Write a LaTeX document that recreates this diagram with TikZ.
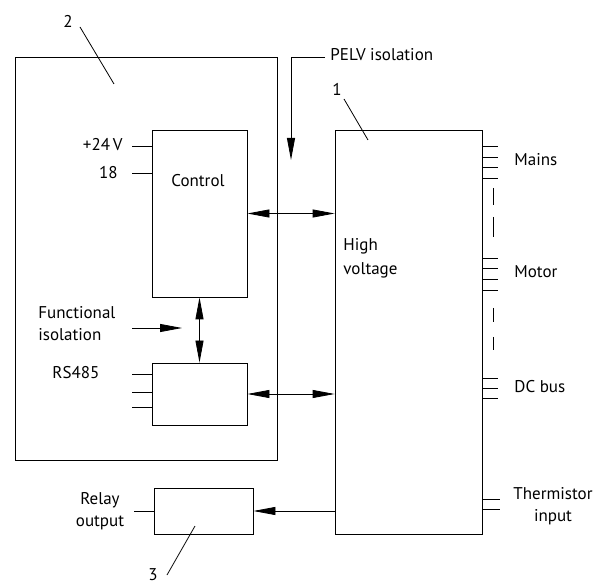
\documentclass[tikz,border=0pt]{standalone}
\usepackage{fontspec}
\setmainfont{PT Sans}
\usetikzlibrary{arrows.meta}
\begin{document}
\begin{tikzpicture}[x=1pt,y=-1pt,
  line width=0.8pt,
  box/.style={draw, inner sep=0pt, anchor=center},
  lbl/.style={font=\fontsize{17}{22}\selectfont, inner sep=0pt},
  tip/.style={-{Triangle[length=22pt,width=8pt]}},
  dtip/.style={{Triangle[length=22pt,width=8pt]}-{Triangle[length=22pt,width=8pt]}}]
\useasboundingbox (0,0) rectangle (600,585);
% boxes
\node[box, minimum width=262pt, minimum height=403pt] (outer) at (146,258.5) {};
\node[box, minimum width=95pt, minimum height=167pt] (ctrl) at (199.5,213.5) {};
\node[box, minimum width=95pt, minimum height=62pt] (rs) at (199.5,394) {};
\node[box, minimum width=147pt, minimum height=404pt] (hv) at (408.5,332) {};
\node[box, minimum width=99pt, minimum height=46pt] (relay) at (203.5,511) {};
% texts
\node[lbl] (t2) at (68,21) {2};
\node[lbl] (t1) at (337,89) {1};
\node[lbl] (t3) at (153,575) {3};
\node[lbl, anchor=west] (pelv) at (330,55) {PELV isolation};
\node[lbl] (tctrl) at (198,181) {Control};
\node[lbl, anchor=east] (t24) at (123,145) {+24\,V};
\node[lbl, anchor=east] (t18) at (118,173) {18};
\node[lbl, align=left, anchor=west] (tfunc) at (38,324) {Functional\\isolation};
\node[lbl, anchor=west] (trs) at (52,373) {RS485};
\node[lbl, align=left, anchor=west] (thv) at (343,258) {High\\[2pt]voltage};
\node[lbl, anchor=west] (tmains) at (514,160) {Mains};
\node[lbl, anchor=west] (tmotor) at (514,272) {Motor};
\node[lbl, anchor=west] (tdc) at (514,387) {DC bus};
\node[lbl, align=center] (ttherm) at (553,506) {Thermistor\\input};
\node[lbl, align=center] (trelay) at (100,511) {Relay\\output};
% leader lines
\draw (80,27) -- (114,84);
\draw (344,99) -- (368,140);
\draw (167,575) -- (195,526);
% PELV arrow
\coordinate (pA) at (325,57);
\coordinate (pB) at (291,57);
\coordinate (pC) at (291,160);
\draw[tip] (pA) -- (pB) -- (pC);
% functional isolation
\coordinate (fA) at (132,328);
\coordinate (fB) at (182,328);
\draw[tip] (fA) -- (fB);
% connectors
\draw[dtip] (ctrl.east) -- (hv.west |- ctrl.east);
\draw[dtip] (rs.east) -- (hv.west |- rs.east);
\draw[dtip] (ctrl.south) -- (rs.north);
\draw[tip] (hv.west |- relay.east) -- (relay.east);
% stubs on control
\draw (132,146) -- (ctrl.west |- 0,146);
\draw (132,173) -- (ctrl.west |- 0,173);
% rs485 stubs
\foreach \y in {374,392,407} \draw (132,\y) -- (rs.west |- 0,\y);
% relay stub
\draw (134,511) -- (relay.west);
% right terminals
\foreach \y in {146,157,167,178,258,268,279,290,378,388,398}
  \draw (hv.east |- 0,\y) -- +(16,0);
\foreach \y in {499,509}
  \draw (hv.east |- 0,\y) -- +(18,0);
\foreach \a/\b in {188/205,217/237,308/322,337/350}
  \draw (493,\a) -- (493,\b);
\end{tikzpicture}
\end{document}
